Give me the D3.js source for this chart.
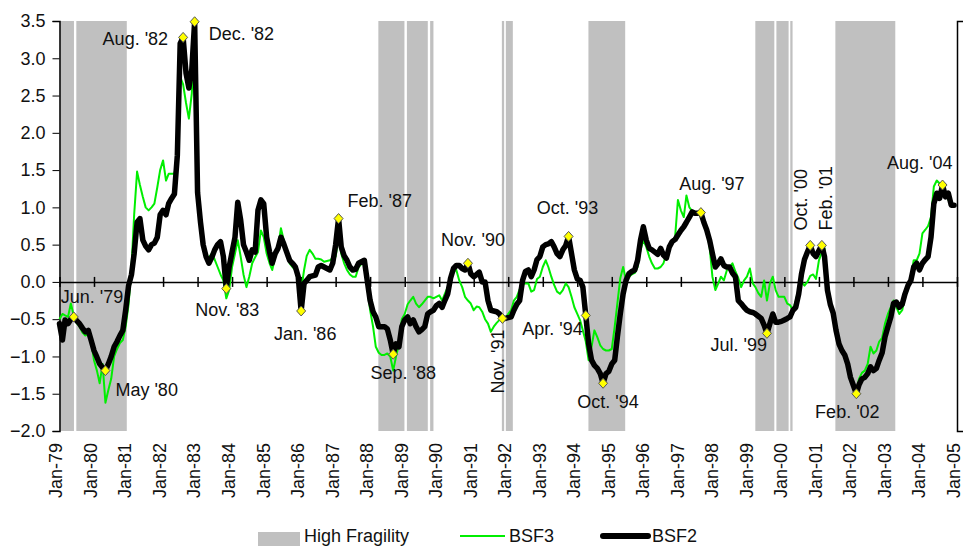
<!DOCTYPE html>
<html>
<head>
<meta charset="utf-8">
<script src="https://cdn.jsdelivr.net/npm/d3@7"></script>
<style>
    body { margin: 0; background: #fff; }
    svg text { font-family: "Liberation Sans", Arial, sans-serif; fill: #111; }
</style>
</head>
<body>
<svg id="chart" width="964" height="546"></svg>
<script>
// monthly values, one row per year, starting Jan 1979
const startMonth = "1979-01"

const bsf2 = [
    -0.56, -0.78, -0.51, -0.56, -0.50, -0.47, -0.52, -0.56, -0.62, -0.67, -0.65, -0.78,
    -0.92, -1.01, -1.10, -1.15, -1.19, -1.10, -1.00, -0.87, -0.80, -0.72, -0.65, -0.38,
    -0.05, 0.10, 0.38, 0.80, 0.85, 0.56, 0.48, 0.43, 0.50, 0.52, 0.60, 0.90,
    0.96, 0.90, 1.05, 1.12, 1.18, 1.70, 3.20, 3.28, 2.80, 2.60, 2.85, 3.49,
    1.20, 0.80, 0.50, 0.34, 0.25, 0.33, 0.43, 0.50, 0.54, 0.34, -0.09, 0.20,
    0.40, 0.60, 1.07, 0.83, 0.50, 0.40, 0.29, 0.43, 0.40, 0.96, 1.10, 1.05,
    0.60, 0.40, 0.25, 0.38, 0.45, 0.60, 0.51, 0.40, 0.29, 0.25, 0.20, 0.07,
    -0.39, -0.02, 0.02, 0.07, 0.08, 0.09, 0.20, 0.22, 0.20, 0.18, 0.16, 0.25,
    0.50, 0.85, 0.47, 0.35, 0.29, 0.20, 0.16, 0.17, 0.25, 0.27, 0.29, 0.02,
    -0.25, -0.40, -0.47, -0.60, -0.60, -0.60, -0.63, -0.78, -0.97, -0.83, -0.87, -0.60,
    -0.51, -0.47, -0.56, -0.51, -0.60, -0.67, -0.64, -0.60, -0.43, -0.40, -0.38, -0.32,
    -0.29, -0.34, -0.25, -0.16, 0.05, 0.18, 0.22, 0.22, 0.18, 0.16, 0.25, 0.11,
    0.07, 0.10, 0.13, 0.00, 0.00, -0.25, -0.38, -0.39, -0.40, -0.43, -0.49, -0.49,
    -0.48, -0.47, -0.38, -0.30, -0.25, 0.02, 0.14, 0.16, 0.07, 0.16, 0.30, 0.34,
    0.47, 0.50, 0.51, 0.54, 0.47, 0.38, 0.34, 0.43, 0.49, 0.61, 0.38, 0.16,
    0.04, 0.02, -0.07, -0.45, -0.83, -1.05, -1.12, -1.16, -1.23, -1.36, -1.23, -1.20,
    -1.10, -1.05, -0.74, -0.43, -0.16, 0.02, 0.11, 0.14, 0.16, 0.29, 0.56, 0.74,
    0.56, 0.45, 0.43, 0.40, 0.37, 0.45, 0.36, 0.32, 0.47, 0.54, 0.57, 0.63,
    0.69, 0.74, 0.80, 0.87, 0.94, 0.92, 0.92, 0.93, 0.80, 0.70, 0.56, 0.38,
    0.20, 0.25, 0.31, 0.22, 0.20, 0.20, 0.12, 0.07, -0.25, -0.29, -0.34, -0.38,
    -0.40, -0.41, -0.43, -0.46, -0.49, -0.58, -0.69, -0.56, -0.43, -0.54, -0.54, -0.53,
    -0.51, -0.49, -0.47, -0.38, -0.34, -0.16, 0.11, 0.30, 0.40, 0.49, 0.38, 0.34,
    0.42, 0.49, 0.34, -0.11, -0.30, -0.42, -0.65, -0.83, -0.92, -0.98, -1.10, -1.28,
    -1.39, -1.50, -1.38, -1.30, -1.28, -1.23, -1.14, -1.19, -1.16, -1.05, -0.95, -0.74,
    -0.60, -0.47, -0.29, -0.27, -0.34, -0.30, -0.16, -0.05, 0.02, 0.20, 0.25, 0.16,
    0.25, 0.30, 0.34, 0.60, 1.05, 1.19, 1.12, 1.30, 1.14, 1.19, 1.03, 1.03
]

const bsf3 = [
    -0.50, -0.43, -0.45, -0.47, -0.29, -0.45, -0.55, -0.60, -0.68, -0.72, -0.70, -0.80,
    -1.05, -1.19, -1.36, -1.10, -1.62, -1.45, -1.30, -1.00, -0.90, -0.82, -0.78, -0.60,
    -0.30, 0.20, 0.90, 1.48, 1.30, 1.14, 1.00, 0.96, 1.00, 1.05, 1.27, 1.50,
    1.63, 1.36, 1.45, 1.45, 1.45, 1.68, 2.75, 2.65, 2.40, 2.19, 2.53, 3.35,
    1.30, 0.85, 0.50, 0.30, 0.33, 0.38, 0.30, 0.20, 0.10, 0.02, -0.22, -0.11,
    0.20, 0.38, 0.56, 0.34, 0.10, -0.07, 0.07, 0.25, 0.33, 0.40, 0.69, 0.60,
    0.38, 0.25, 0.16, 0.33, 0.45, 0.72, 0.56, 0.40, 0.25, 0.20, 0.16, 0.00,
    -0.11, 0.16, 0.35, 0.43, 0.38, 0.31, 0.31, 0.30, 0.27, 0.28, 0.29, 0.32,
    0.34, 0.60, 0.38, 0.25, 0.16, 0.10, 0.07, 0.07, 0.20, 0.24, 0.25, -0.07,
    -0.38, -0.60, -0.87, -0.95, -0.98, -0.98, -0.96, -1.00, -1.19, -1.00, -0.83, -0.50,
    -0.43, -0.30, -0.25, -0.20, -0.29, -0.34, -0.30, -0.25, -0.20, -0.20, -0.22, -0.20,
    -0.18, -0.25, -0.16, -0.07, 0.07, 0.14, 0.16, 0.02, -0.07, -0.20, -0.25, -0.29,
    -0.38, -0.33, -0.34, -0.40, -0.50, -0.56, -0.67, -0.60, -0.55, -0.51, -0.47, -0.49,
    -0.43, -0.38, -0.25, -0.20, -0.10, -0.02, -0.02, -0.02, -0.13, -0.11, 0.04, 0.07,
    0.20, 0.29, 0.20, 0.07, -0.04, -0.13, -0.16, -0.11, -0.02, -0.07, -0.20, -0.34,
    -0.43, -0.52, -0.65, -0.80, -1.05, -0.87, -0.65, -0.74, -0.85, -0.90, -0.92, -0.92,
    -0.90, -0.60, -0.29, 0.05, 0.20, 0.02, 0.07, 0.10, 0.12, 0.20, 0.43, 0.56,
    0.47, 0.34, 0.25, 0.18, 0.18, 0.20, 0.25, 0.38, 0.47, 0.55, 0.60, 1.10,
    0.96, 0.87, 1.16, 1.00, 0.95, 0.94, 0.92, 0.88, 0.80, 0.70, 0.47, 0.07,
    -0.11, -0.02, 0.07, 0.02, 0.15, 0.20, 0.25, 0.14, 0.05, -0.07, 0.02, 0.07,
    0.18, -0.02, -0.07, -0.15, -0.20, 0.02, -0.25, -0.02, 0.07, -0.11, -0.20, -0.20,
    -0.20, -0.29, -0.31, -0.38, -0.25, -0.10, 0.00, -0.05, 0.00, 0.08, 0.10, 0.04,
    0.29, 0.40, 0.45, 0.00, -0.25, -0.40, -0.65, -0.85, -0.95, -1.00, -1.12, -1.28,
    -1.40, -1.48, -1.30, -1.22, -1.19, -1.10, -0.87, -0.96, -0.92, -0.80, -0.75, -0.56,
    -0.43, -0.34, -0.25, -0.34, -0.43, -0.38, -0.20, -0.10, 0.07, 0.29, 0.29, 0.38,
    0.65, 0.70, 0.75, 0.87, 1.28, 1.36, 1.32, 1.28, 1.20, 1.10, 1.07, 1.03
]

// high fragility periods (start, end)
const fragility = [
    ["1979-01-01", "1979-06-03"],
    ["1979-06-28", "1980-12-13"],
    ["1988-03-28", "1988-12-29"],
    ["1989-01-24", "1989-09-02"],
    ["1989-09-27", "1989-11-01"],
    ["1991-10-26", "1991-11-19"],
    ["1991-12-07", "1992-02-19"],
    ["1994-04-29", "1995-05-23"],
    ["1999-02-28", "1999-09-17"],
    ["1999-10-09", "2000-02-15"],
    ["2000-03-04", "2000-03-28"],
    ["2001-06-24", "2003-03-20"]
]

// labelled turning points on BSF2
const events = [
    ["1979-06", "Jun. '79"],
    ["1980-05", "May '80"],
    ["1982-08", "Aug. '82"],
    ["1982-12", "Dec. '82"],
    ["1983-11", "Nov. '83"],
    ["1986-01", "Jan. '86"],
    ["1987-02", "Feb. '87"],
    ["1988-09", "Sep. '88"],
    ["1990-11", "Nov. '90"],
    ["1991-11", "Nov. '91"],
    ["1993-10", "Oct. '93"],
    ["1994-04", "Apr. '94"],
    ["1994-10", "Oct. '94"],
    ["1997-08", "Aug. '97"],
    ["1999-07", "Jul. '99"],
    ["2000-10", "Oct. '00"],
    ["2001-02", "Feb. '01"],
    ["2002-02", "Feb. '02"],
    ["2004-08", "Aug. '04"]
]

const yTicks = [-2.0, -1.5, -1.0, -0.5, 0.0, 0.5, 1.0, 1.5, 2.0, 2.5, 3.0, 3.5]
const xTickYears = d3.range(1979, 2006)
const legendNames = ["High Fragility", "BSF3", "BSF2"]

// layout
const layout = {
    left: 59.5,
    right: 957,
    top: 21,
    bottom: 431,
    shade: "#c0c0c0",
    green: "#00ee00",
    black: "#000",
    marker: "#ffff00",
    fontSize: 18
}

// where each label sits relative to its marker
const labelPlace = {
    "Jun. '79": { dx: -13, dy: -14, anchor: "start" },
    "May '80": { dx: 10, dy: 25, anchor: "start" },
    "Aug. '82": { dx: -15, dy: 8, anchor: "end" },
    "Dec. '82": { dx: 14, dy: 18, anchor: "start" },
    "Nov. '83": { dx: 1, dy: 27, anchor: "middle" },
    "Jan. '86": { dx: 4, dy: 29, anchor: "middle" },
    "Feb. '87": { dx: 9, dy: -12, anchor: "start" },
    "Sep. '88": { dx: 10, dy: 25, anchor: "middle" },
    "Nov. '90": { dx: 5, dy: -17, anchor: "middle" },
    "Nov. '91": { dx: 2, dy: 11, anchor: "end", rotate: true },
    "Oct. '93": { dx: -1, dy: -22, anchor: "middle" },
    "Apr. '94": { dx: -3, dy: 20, anchor: "end" },
    "Oct. '94": { dx: 5, dy: 25, anchor: "middle" },
    "Aug. '97": { dx: 11, dy: -23, anchor: "middle" },
    "Jul. '99": { dx: 0, dy: 18, anchor: "end" },
    "Oct. '00": { dx: -3, dy: -15, anchor: "start", rotate: true },
    "Feb. '01": { dx: 10, dy: -15, anchor: "start", rotate: true },
    "Feb. '02": { dx: -9, dy: 24, anchor: "middle" },
    "Aug. '04": { dx: 10, dy: -16, anchor: "end" }
}

const parseMonth = d3.timeParse("%Y-%m")
const parseDay = d3.timeParse("%Y-%m-%d")
const firstMonth = parseMonth(startMonth)
const monthOf = (i) => d3.timeMonth.offset(firstMonth, i)

const svg = d3.select("#chart")

const x = d3.scaleTime()
    .domain([new Date(1979, 0, 1), new Date(2005, 0, 1)])
    .range([layout.left, layout.right])

const y = d3.scaleLinear()
    .domain([-2, 3.5])
    .range([layout.bottom, layout.top])

// shaded periods
svg.append("g").attr("id", "fragility")
    .selectAll("rect")
    .data(fragility)
    .join("rect")
    .attr("x", d => x(parseDay(d[0])))
    .attr("width", d => x(parseDay(d[1])) - x(parseDay(d[0])))
    .attr("y", y(3.5))
    .attr("height", y(-2) - y(3.5))
    .attr("fill", layout.shade)

// left axis
const yAxis = d3.axisLeft(y)
    .tickValues(yTicks)
    .tickFormat(d3.format(".1f"))
    .tickSize(7)
    .tickPadding(7)

const gy = svg.append("g")
    .attr("transform", `translate(${layout.left},0)`)
    .call(yAxis)
gy.select(".domain").attr("stroke", "#000").attr("stroke-width", 1.5)
gy.selectAll(".tick line").attr("stroke", "#000")
gy.selectAll(".tick text")
    .attr("font-size", layout.fontSize)
    .attr("font-family", null)
    .attr("fill", "#111")

// right axis with no labels
const gr = svg.append("g")
    .attr("transform", `translate(${layout.right},0)`)
    .call(d3.axisRight(y).tickValues([-2, 3.5]).tickFormat("").tickSize(6))
gr.select(".domain").attr("stroke", "#000").attr("stroke-width", 1.5)

// zero line with year ticks across it
const xAxis = d3.axisBottom(x)
    .tickValues(xTickYears.map(yr => new Date(yr, 0, 1)))
    .tickFormat("")
    .tickSizeInner(0)
    .tickSizeOuter(0)

const gx = svg.append("g")
    .attr("transform", `translate(0,${y(0)})`)
    .call(xAxis)
gx.select(".domain").attr("stroke", "#000").attr("stroke-width", 1.5)
gx.selectAll(".tick line")
    .attr("y1", -5)
    .attr("y2", 5)
    .attr("stroke", "#000")
    .attr("stroke-width", 1.5)

// rotated month labels under the plot
const fmt = d3.timeFormat("%b-%y")
svg.append("g").attr("id", "xlabels")
    .selectAll("text")
    .data(xTickYears)
    .join("text")
    .attr("transform", d => `translate(${x(new Date(d, 0, 1)) - 2.5},${layout.bottom + 12}) rotate(-90)`)
    .attr("text-anchor", "end")
    .attr("dy", "0.3em")
    .attr("font-size", layout.fontSize)
    .text(d => fmt(new Date(d, 0, 1)))

// series
const line = d3.line()
    .x((d, i) => x(monthOf(i)))
    .y(d => y(d))

svg.append("path")
    .datum(bsf3)
    .attr("d", line)
    .attr("fill", "none")
    .attr("stroke", layout.green)
    .attr("stroke-width", 2)
    .attr("stroke-linejoin", "round")

svg.append("path")
    .datum(bsf2)
    .attr("d", line)
    .attr("fill", "none")
    .attr("stroke", layout.black)
    .attr("stroke-width", 5.5)
    .attr("stroke-linejoin", "round")
    .attr("stroke-linecap", "round")

// markers and their labels
const pts = events.map(e => {
    const t = parseMonth(e[0])
    const i = d3.timeMonth.count(firstMonth, t)
    return { t: t, v: bsf2[i], label: e[1] }
})

const diamond = "M0,-5L4.5,0L0,5L-4.5,0Z"

svg.append("g").attr("id", "markers")
    .selectAll("path")
    .data(pts)
    .join("path")
    .attr("transform", d => `translate(${x(d.t)},${y(d.v)})`)
    .attr("d", diamond)
    .attr("fill", layout.marker)
    .attr("stroke", "#555")
    .attr("stroke-width", 1)

svg.append("g").attr("id", "labels")
    .selectAll("text")
    .data(pts)
    .join("text")
    .attr("transform", d => {
        const p = labelPlace[d.label]
        const tx = x(d.t) + p.dx
        const ty = y(d.v) + p.dy
        return p.rotate ? `translate(${tx},${ty}) rotate(-90)` : `translate(${tx},${ty})`
    })
    .attr("text-anchor", d => labelPlace[d.label].anchor)
    .attr("font-size", layout.fontSize)
    .text(d => d.label)

// legend
const lg = svg.append("g").attr("id", "legend")
const ly = 536

lg.append("rect")
    .attr("x", 258).attr("y", ly - 4)
    .attr("width", 42).attr("height", 14)
    .attr("fill", layout.shade)
lg.append("text").attr("x", 304).attr("y", ly + 6).attr("font-size", layout.fontSize).text(legendNames[0])

lg.append("line")
    .attr("x1", 460).attr("x2", 505).attr("y1", ly).attr("y2", ly)
    .attr("stroke", layout.green).attr("stroke-width", 2)
lg.append("text").attr("x", 509).attr("y", ly + 6).attr("font-size", layout.fontSize).text(legendNames[1])

lg.append("line")
    .attr("x1", 603).attr("x2", 648).attr("y1", ly).attr("y2", ly)
    .attr("stroke", layout.black).attr("stroke-width", 6)
    .attr("stroke-linecap", "round")
lg.append("text").attr("x", 652).attr("y", ly + 6).attr("font-size", layout.fontSize).text(legendNames[2])
</script>
</body>
</html>
